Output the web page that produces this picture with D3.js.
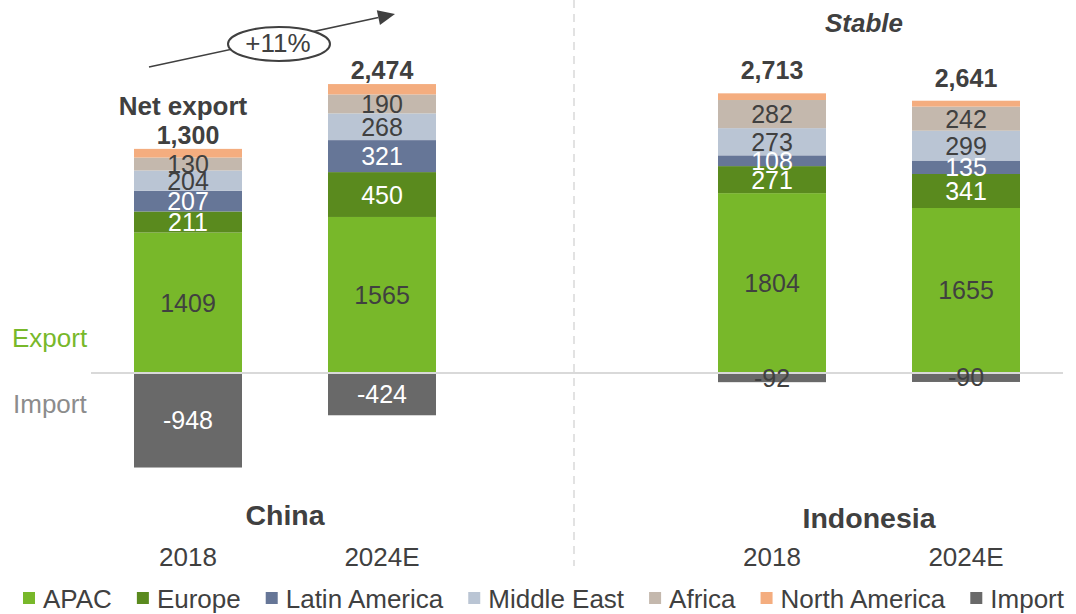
<!DOCTYPE html>
<html>
<head>
<meta charset="utf-8">
<script src="https://cdn.jsdelivr.net/npm/d3@7"></script>
<style>
  html, body { margin: 0; padding: 0; background: #fff; }
  svg { display: block; font-family: "Liberation Sans", Arial, sans-serif; }
</style>
</head>
<body>
<svg id="chart" width="1076" height="614"></svg>
<script>
// ---------- DATA ----------
const groups = ["China", "Indonesia"];
const years = ["2018", "2024E"];
const seriesNames = ["APAC", "Europe", "Latin America", "Middle East", "Africa", "North America"];
const apac = [1409, 1565, 1804, 1655];
const europe = [211, 450, 271, 341];
const latinAmerica = [207, 321, 108, 135];
const middleEast = [204, 268, 273, 299];
const africa = [130, 190, 282, 242];
const northAmerica = [87, 104, 67, 59];   // unlabeled, estimated
const imports = [-948, -424, -92, -90];
const netExport = [1300, 2474, 2713, 2641];
const legendNames = ["APAC", "Europe", "Latin America", "Middle East", "Africa", "North America", "Import"];

// ---------- STYLE ----------
const colors = {
  "APAC": "#78b82a", "Europe": "#5a8a1e", "Latin America": "#667697",
  "Middle East": "#bac5d4", "Africa": "#c4b8ad", "North America": "#f4ad7f", "Import": "#696969"
};
const labelColor = {
  "APAC": "#404040", "Europe": "#ffffff", "Latin America": "#ffffff",
  "Middle East": "#404040", "Africa": "#404040", "North America": null
};
const dark = "#404040";

const svg = d3.select("#chart");

// rows
const seriesValues = [apac, europe, latinAmerica, middleEast, africa, northAmerica];
const rows = [];
groups.forEach((g, gi) => years.forEach((yr, yi) => {
  const i = gi * years.length + yi;
  const r = { group: g, year: yr, idx: i, imp: imports[i], net: netExport[i] };
  seriesNames.forEach((s, si) => r[s] = seriesValues[si][i]);
  rows.push(r);
}));

// ---------- SCALES ----------
const y = d3.scaleLinear().domain([-1000, 3000]).range([472.7, 73.9]);
const xGroup = d3.scalePoint().domain(groups).range([285, 869]);
const xYear = d3.scaleBand().domain(years).range([-151, 151]).paddingInner(86 / 194).paddingOuter(0);
const barX = d => xGroup(d.group) + xYear(d.year);
const bw = xYear.bandwidth();

// ---------- GRID / SEPARATORS ----------
svg.append("line")
  .attr("x1", 574).attr("x2", 574).attr("y1", 0).attr("y2", 566)
  .attr("stroke", "#d9d9d9").attr("stroke-width", 1.5).attr("stroke-dasharray", "8,6");

// ---------- STACKED BARS ----------
const stack = d3.stack().keys(seriesNames)(rows);
const layers = svg.append("g").selectAll("g").data(stack).join("g")
  .attr("fill", d => colors[d.key]);
layers.selectAll("rect").data(d => d.map(p => Object.assign({}, p, { key: d.key }))).join("rect")
  .attr("x", d => barX(d.data))
  .attr("width", bw)
  .attr("y", d => y(d[1]))
  .attr("height", d => y(d[0]) - y(d[1]));

// imports
svg.append("g").selectAll("rect").data(rows).join("rect")
  .attr("x", d => barX(d))
  .attr("width", bw)
  .attr("y", y(0))
  .attr("height", d => y(d.imp) - y(0))
  .attr("fill", colors["Import"]);

// zero line
svg.append("line")
  .attr("x1", 91).attr("x2", 1063).attr("y1", y(0)).attr("y2", y(0))
  .attr("stroke", "#d9d9d9").attr("stroke-width", 2);

// segment labels
stack.forEach(layer => {
  if (!labelColor[layer.key]) return;
  svg.append("g").selectAll("text").data(layer).join("text")
    .attr("x", d => barX(d.data) + bw / 2)
    .attr("y", d => (y(d[0]) + y(d[1])) / 2)
    .attr("dy", "0.36em")
    .attr("text-anchor", "middle")
    .attr("font-size", 25)
    .attr("fill", labelColor[layer.key])
    .text(d => d.data[layer.key]);
});
svg.append("g").selectAll("text").data(rows).join("text")
  .attr("x", d => barX(d) + bw / 2)
  .attr("y", d => (y(0) + y(d.imp)) / 2)
  .attr("dy", "0.36em")
  .attr("text-anchor", "middle")
  .attr("font-size", 25)
  .attr("fill", d => Math.abs(d.imp) > 200 ? "#ffffff" : dark)
  .text(d => d.imp);

// totals
const fmt = d3.format(",");
svg.append("g").selectAll("text").data(rows).join("text")
  .attr("x", d => barX(d) + bw / 2)
  .attr("y", d => y(d.net - d.imp) - (d.group === "China" ? 5 : 14))
  .attr("text-anchor", "middle")
  .attr("font-size", 25).attr("font-weight", "bold")
  .attr("fill", dark)
  .text(d => fmt(d.net));

svg.append("text")
  .attr("x", barX(rows[0]) + bw / 2 - 5).attr("y", 115)
  .attr("text-anchor", "middle").attr("font-size", 26).attr("font-weight", "bold")
  .attr("fill", dark).text("Net export");

// ---------- AXIS-LIKE LABELS ----------
svg.append("g").selectAll("text").data(rows).join("text")
  .attr("x", d => barX(d) + bw / 2)
  .attr("y", 566)
  .attr("text-anchor", "middle")
  .attr("font-size", 26)
  .attr("fill", dark)
  .text(d => d.year);

svg.append("g").selectAll("text").data(groups).join("text")
  .attr("x", d => xGroup(d))
  .attr("y", (d, i) => i === 0 ? 525 : 528)
  .attr("text-anchor", "middle")
  .attr("font-size", 28.5).attr("font-weight", "bold")
  .attr("fill", dark)
  .text(d => d);

svg.append("text").attr("x", 12).attr("y", 347).attr("font-size", 26)
  .attr("fill", "#78b82a").text("Export");
svg.append("text").attr("x", 13).attr("y", 413).attr("font-size", 26)
  .attr("fill", "#8c8c8c").text("Import");

// ---------- ANNOTATIONS ----------
svg.append("text")
  .attr("x", 864).attr("y", 32).attr("text-anchor", "middle")
  .attr("font-size", 26).attr("font-weight", "bold").attr("font-style", "italic")
  .attr("fill", dark).text("Stable");

// growth arrow
const ax0 = 149, ay0 = 67, ax1 = 395, ay1 = 14;
const ang = Math.atan2(ay1 - ay0, ax1 - ax0);
const headL = 17, headW = 7.5;
const bx = ax1 - headL * Math.cos(ang), by = ay1 - headL * Math.sin(ang);
svg.append("line").attr("x1", ax0).attr("y1", ay0).attr("x2", bx).attr("y2", by)
  .attr("stroke", dark).attr("stroke-width", 1.6);
svg.append("polygon")
  .attr("points", [
    [ax1, ay1],
    [bx + headW * Math.sin(ang), by - headW * Math.cos(ang)],
    [bx - headW * Math.sin(ang), by + headW * Math.cos(ang)]
  ].map(p => p.join(",")).join(" "))
  .attr("fill", dark);
svg.append("ellipse").attr("cx", 279).attr("cy", 44).attr("rx", 51).attr("ry", 17)
  .attr("fill", "#fff").attr("stroke", dark).attr("stroke-width", 2);
svg.append("text").attr("x", 278).attr("y", 52).attr("text-anchor", "middle")
  .attr("font-size", 26).attr("fill", dark).text("+11%");

// ---------- LEGEND ----------
const legend = svg.append("g");
let lx = 23;
legendNames.forEach(name => {
  legend.append("rect").attr("x", lx).attr("y", 592).attr("width", 12).attr("height", 12)
    .attr("fill", colors[name]);
  const t = legend.append("text").attr("x", lx + 20).attr("y", 607.5)
    .attr("font-size", 26).attr("fill", dark).text(name);
  lx += 20 + t.node().getComputedTextLength() + 25;
});
</script>
</body>
</html>
